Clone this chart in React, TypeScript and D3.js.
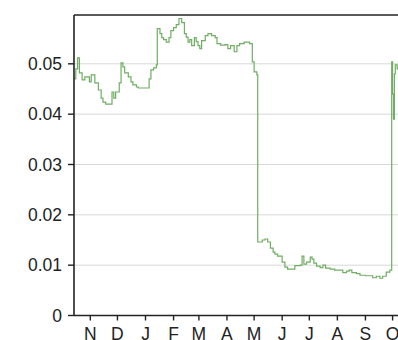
import React from "react";
import * as d3 from "d3";

const dates: string[] = [
  "2012-10-14","2012-10-16","2012-10-18","2012-10-20","2012-10-23","2012-10-26","2012-10-31",
  "2012-11-02","2012-11-06","2012-11-10","2012-11-13","2012-11-15","2012-11-18","2012-11-25",
  "2012-11-27","2012-11-29","2012-12-03","2012-12-05","2012-12-07","2012-12-09","2012-12-13",
  "2012-12-16","2012-12-18","2012-12-22","2012-12-24","2013-01-05","2013-01-07","2013-01-10",
  "2013-01-13","2013-01-14","2013-01-17","2013-01-19","2013-01-21","2013-01-24","2013-01-27",
  "2013-01-29","2013-02-01","2013-02-04","2013-02-07","2013-02-10","2013-02-13","2013-02-15",
  "2013-02-17","2013-02-19","2013-02-21","2013-02-24","2013-02-26","2013-02-28","2013-03-02",
  "2013-03-04","2013-03-08","2013-03-11","2013-03-15","2013-03-19","2013-03-21","2013-03-25",
  "2013-03-30","2013-04-02","2013-04-05","2013-04-09","2013-04-12","2013-04-15","2013-04-20",
  "2013-04-26","2013-04-29","2013-05-01","2013-05-04","2013-05-05","2013-05-10","2013-05-13",
  "2013-05-16","2013-05-19","2013-05-22","2013-05-24","2013-05-27","2013-06-01","2013-06-04",
  "2013-06-07","2013-06-15","2013-06-21","2013-06-23","2013-06-25","2013-06-28","2013-07-02",
  "2013-07-04","2013-07-06","2013-07-09","2013-07-13","2013-07-16","2013-07-19","2013-07-24",
  "2013-07-29","2013-08-07","2013-08-11","2013-08-14","2013-08-17","2013-08-22","2013-08-26",
  "2013-09-01","2013-09-09","2013-09-13","2013-09-17","2013-09-20","2013-09-24","2013-09-28",
  "2013-09-30","2013-10-01","2013-10-02","2013-10-03","2013-10-04","2013-10-06","2013-10-07",
];

const values: number[] = [
  0.0470,0.0490,0.0512,0.0482,0.0468,0.0474,0.0464,
  0.0478,0.0462,0.0448,0.0432,0.0424,0.0420,0.0444,
  0.0432,0.0444,0.0462,0.0502,0.0494,0.0482,0.0474,
  0.0464,0.0458,0.0454,0.0452,0.0470,0.0488,0.0492,
  0.0498,0.0570,0.0560,0.0552,0.0548,0.0543,0.0552,
  0.0566,0.0572,0.0578,0.0590,0.0582,0.0560,0.0553,
  0.0543,0.0548,0.0536,0.0552,0.0544,0.0536,0.0530,
  0.0546,0.0556,0.0560,0.0556,0.0552,0.0540,0.0537,
  0.0538,0.0530,0.0536,0.0524,0.0536,0.0540,0.0543,
  0.0540,0.0504,0.0484,0.0478,0.0146,0.0150,0.0152,
  0.0146,0.0134,0.0126,0.0122,0.0118,0.0106,0.0096,
  0.0092,0.0099,0.0100,0.0118,0.0102,0.0106,0.0116,
  0.0112,0.0104,0.0098,0.0095,0.0100,0.0094,0.0092,
  0.0090,0.0085,0.0088,0.0090,0.0085,0.0083,0.0080,
  0.0079,0.0075,0.0078,0.0074,0.0078,0.0086,0.0090,
  0.0504,0.0440,0.0390,0.0480,0.0498,0.0490,0.0492,
];

const monthTicks: string[] = [
  "2012-11-01","2012-12-01","2013-01-01","2013-02-01","2013-03-01","2013-04-01",
  "2013-05-01","2013-06-01","2013-07-01","2013-08-01","2013-09-01","2013-10-01",
];
const monthLabels: string[] = ["N","D","J","F","M","A","M","J","J","A","S","O"];
const yTicks: number[] = [0, 0.01, 0.02, 0.03, 0.04, 0.05];
const yTickLabels: string[] = ["0", "0.01", "0.02", "0.03", "0.04", "0.05"];
const xDomain: string[] = ["2012-10-14", "2013-10-14"];

const W = 398, H = 340;
const left = 74, top = 15, bottom = 315.5;
const parse = d3.utcParse("%Y-%m-%d");

export default function App() {
  const x = d3.scaleUtc()
    .domain(xDomain.map((s) => parse(s) as Date))
    .range([left, left + 365 * 0.9051]);
  const y = d3.scaleLinear().domain([0, 0.0597]).range([bottom, top]);
  const pts = dates.map((d, i) => ({ d: parse(d) as Date, v: values[i] }));
  const line = d3.line<{ d: Date; v: number }>()
    .x((p) => x(p.d))
    .y((p) => y(p.v))
    .curve(d3.curveStepAfter);
  const font = "'Liberation Sans', Arial, Helvetica, sans-serif";
  return (
    <svg width={W} height={H} style={{ position: "absolute", left: 0, top: 0, background: "#fff" }}>
      <rect width={W} height={H} fill="#fff" />
      {yTicks.filter((t) => t > 0).map((t) => (
        <line key={"g" + t} x1={left} x2={W} y1={y(t)} y2={y(t)} stroke="#d8d8d8" strokeWidth={1} />
      ))}
      <path d={line(pts) || ""} fill="none" stroke="#6fae63" strokeWidth={1.2} />
      <line x1={left} x2={W} y1={top} y2={top} stroke="#222" strokeWidth={1.6} />
      <line x1={left} x2={left} y1={top} y2={bottom} stroke="#222" strokeWidth={1.6} />
      <line x1={left} x2={W} y1={bottom} y2={bottom} stroke="#222" strokeWidth={1.6} />
      {yTicks.map((t, i) => (
        <g key={"y" + t}>
          <line x1={left - 6} x2={left} y1={y(t)} y2={y(t)} stroke="#222" strokeWidth={1.4} />
          <text x={left - 12} y={y(t)} dy="0.35em" textAnchor="end" fontFamily={font} fontSize={17.5} fill="#222">
            {yTickLabels[i]}
          </text>
        </g>
      ))}
      {monthTicks.map((m, i) => {
        const xv = x(parse(m) as Date);
        return (
          <g key={"x" + m}>
            <line x1={xv} x2={xv} y1={bottom} y2={bottom + 5} stroke="#222" strokeWidth={1.4} />
            <text x={xv} y={339.5} textAnchor="middle" fontFamily={font} fontSize={17.5} fill="#222">
              {monthLabels[i]}
            </text>
          </g>
        );
      })}
    </svg>
  );
}
